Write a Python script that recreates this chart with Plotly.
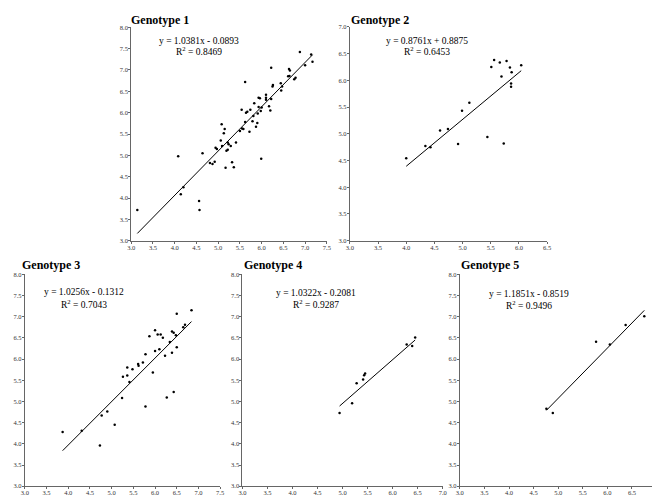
import plotly.graph_objects as go

# ---------------- data ----------------
g1_x = [3.14, 4.08, 4.14, 4.20, 4.56, 4.57, 4.64, 4.81, 4.87, 4.92, 4.94, 4.97, 5.06, 5.08, 5.13, 5.15,
        5.09, 5.17, 5.19, 5.22, 5.22, 5.24, 5.29, 5.32, 5.36, 5.41, 5.50, 5.54, 5.55, 5.58, 5.62, 5.62,
        5.64, 5.67, 5.72, 5.74, 5.79, 5.83, 5.81, 5.87, 5.90, 5.91, 5.93, 5.93, 5.96, 5.99, 5.98, 6.00,
        6.10, 6.10, 6.10, 6.17, 6.20, 6.22, 6.22, 6.25, 6.26, 6.44, 6.45, 6.47, 6.61, 6.63, 6.64, 6.65,
        6.75, 6.78, 6.88, 7.00, 7.14, 7.17]
g1_y = [3.72, 4.98, 4.09, 4.25, 3.93, 3.72, 5.05, 4.82, 4.80, 4.85, 5.18, 5.15, 5.35, 5.73, 5.52, 5.62,
        5.22, 4.71, 5.11, 5.13, 5.30, 5.26, 5.22, 4.84, 4.72, 5.30, 5.57, 6.07, 5.63, 5.62, 6.72, 5.78,
        6.00, 6.02, 5.55, 6.07, 5.80, 6.22, 5.92, 5.67, 5.76, 5.98, 6.13, 6.35, 6.34, 4.92, 6.04, 6.12,
        6.30, 6.42, 6.35, 6.15, 6.05, 6.32, 7.05, 6.61, 6.65, 6.69, 6.52, 6.61, 6.85, 7.02, 6.86, 6.99,
        6.78, 6.82, 7.42, 7.11, 7.36, 7.19]

g2_x = [4.00, 4.34, 4.43, 4.60, 4.74, 4.92, 4.99, 5.12, 5.44, 5.51, 5.56, 5.66, 5.69, 5.73, 5.78,
        5.84, 5.87, 5.86, 5.86, 6.04]
g2_y = [4.54, 4.77, 4.75, 5.06, 5.09, 4.81, 5.43, 5.58, 4.94, 6.25, 6.38, 6.33, 6.07, 4.82, 6.36,
        6.24, 6.15, 5.94, 5.88, 6.28]

g3_x = [3.87, 4.31, 4.73, 4.77, 4.90, 5.07, 5.24, 5.26, 5.36, 5.36, 5.41, 5.48, 5.61, 5.62, 5.72,
        5.78, 5.78, 5.87, 5.95, 6.00, 6.00, 6.06, 6.10, 6.13, 6.18, 6.23, 6.27, 6.34, 6.39, 6.39,
        6.43, 6.43, 6.50, 6.48, 6.50, 6.65, 6.69, 6.84]
g3_y = [4.28, 4.31, 3.96, 4.67, 4.76, 4.45, 5.08, 5.58, 5.80, 5.61, 5.46, 5.76, 5.88, 5.84, 5.92,
        6.11, 4.88, 6.54, 5.68, 6.68, 6.19, 6.58, 6.23, 6.58, 6.50, 6.08, 5.09, 6.40, 6.65, 6.15,
        5.22, 6.62, 7.07, 6.56, 6.28, 6.75, 6.81, 7.15]

g4_x = [4.94, 5.19, 5.28, 5.41, 5.43, 5.45, 6.28, 6.39, 6.45]
g4_y = [4.73, 4.96, 5.43, 5.52, 5.62, 5.66, 6.34, 6.31, 6.51]

g5_x = [4.76, 4.89, 5.77, 6.05, 6.37, 6.75]
g5_y = [4.83, 4.73, 6.41, 6.34, 6.80, 7.01]

titles = ["Genotype 1", "Genotype 2", "Genotype 3", "Genotype 4", "Genotype 5"]
slopes = [1.0381, 0.8761, 1.0256, 1.0322, 1.1851]
intercepts = [-0.0893, 0.8875, -0.1312, -0.2081, -0.8519]
eq_texts = ["y = 1.0381x - 0.0893", "y = 0.8761x + 0.8875", "y = 1.0256x - 0.1312",
            "y = 1.0322x - 0.2081", "y = 1.1851x - 0.8519"]
r2_texts = ["0.8469", "0.6453", "0.7043", "0.9287", "0.9496"]
x_ranges = [[3.0, 7.5], [3.0, 6.5], [3.0, 7.5], [3.0, 7.0], [3.0, 7.0]]
y_ranges = [[3.0, 8.0], [3.0, 7.0], [3.0, 8.0], [3.0, 8.0], [3.0, 8.0]]
x_ticks = [[3.0, 3.5, 4.0, 4.5, 5.0, 5.5, 6.0, 6.5, 7.0, 7.5],
           [3.0, 3.5, 4.0, 4.5, 5.0, 5.5, 6.0, 6.5],
           [3.0, 3.5, 4.0, 4.5, 5.0, 5.5, 6.0, 6.5, 7.0, 7.5],
           [3.0, 3.5, 4.0, 4.5, 5.0, 5.5, 6.0, 6.5, 7.0],
           [3.0, 3.5, 4.0, 4.5, 5.0, 5.5, 6.0, 6.5, 7.0]]
y_ticks = [[3.0, 3.5, 4.0, 4.5, 5.0, 5.5, 6.0, 6.5, 7.0, 7.5, 8.0],
           [3.0, 3.5, 4.0, 4.5, 5.0, 5.5, 6.0, 6.5, 7.0],
           [3.0, 3.5, 4.0, 4.5, 5.0, 5.5, 6.0, 6.5, 7.0, 7.5, 8.0],
           [3.0, 3.5, 4.0, 4.5, 5.0, 5.5, 6.0, 6.5, 7.0, 7.5, 8.0],
           [3.0, 3.5, 4.0, 4.5, 5.0, 5.5, 6.0, 6.5, 7.0, 7.5, 8.0]]

xs = [g1_x, g2_x, g3_x, g4_x, g5_x]
ys = [g1_y, g2_y, g3_y, g4_y, g5_y]

# ---------------- layout geometry (pixels) ----------------
W, H = 660, 496
# left, right, top, bottom in pixels
boxes = [(120.7, 318.7, 15.5, 232.0),
         (342.0, 541.7, 15.0, 232.0),
         (13.0, 210.7, 266.0, 481.0),
         (233.3, 436.0, 266.0, 481.0),
         (453.3, 652.5, 266.0, 481.0)]
eq_pos = [(189, 29.0, 40.0), (420.5, 29.0, 40.0), (73, 284.5, 296.0), (308, 285.0, 296.5), (523, 286.0, 297.0)]
title_pos = [(119, 0), (342.5, 0), (9.5, 249), (234, 249), (453, 249)]

fig = go.Figure()
FONT = "Liberation Serif"

for i in range(5):
    ax = "" if i == 0 else str(i + 1)
    xa, ya = "x" + ax, "y" + ax
    fig.add_trace(go.Scatter(x=xs[i], y=ys[i], mode="markers",
                             marker=dict(color="black", size=2.5),
                             xaxis=xa, yaxis=ya, showlegend=False, hoverinfo="skip"))
    x0, x1 = min(xs[i]), max(xs[i])
    lx = [x0, x1]
    ly = [slopes[i] * v + intercepts[i] for v in lx]
    fig.add_trace(go.Scatter(x=lx, y=ly, mode="lines",
                             line=dict(color="black", width=1),
                             xaxis=xa, yaxis=ya, showlegend=False, hoverinfo="skip"))
    l, r, t, b = boxes[i]
    axis_common = dict(showgrid=False, zeroline=False, showline=True, linecolor="#666",
                       linewidth=1, ticks="outside", ticklen=2, tickcolor="#666",
                       tickfont=dict(family=FONT, size=6.5, color="#333"), tickformat=".1f")
    fig.layout["xaxis" + ax] = dict(domain=[l / W, r / W], range=x_ranges[i],
                                    tickvals=x_ticks[i], anchor=ya, ticklabelstandoff=-2,
                                    **axis_common)
    fig.layout["yaxis" + ax] = dict(domain=[1 - b / H, 1 - t / H], range=y_ranges[i],
                                    tickvals=y_ticks[i], anchor=xa, ticklabelstandoff=-1,
                                    **axis_common)
    tx, ty = title_pos[i]
    fig.add_annotation(x=tx / W, y=1 - ty / H, xref="paper", yref="paper",
                       text="<b>" + titles[i] + "</b>", showarrow=False,
                       xanchor="left", yanchor="top", borderpad=0,
                       font=dict(family=FONT, size=12, color="black"))
    ex, ey, ry = eq_pos[i]
    fig.add_annotation(x=ex / W, y=1 - ey / H, xref="paper", yref="paper",
                       text=eq_texts[i], showarrow=False, xanchor="center", yanchor="middle",
                       borderpad=0,
                       font=dict(family=FONT, size=9.5, color="black"))
    fig.add_annotation(x=ex / W, y=1 - ry / H, xref="paper", yref="paper",
                       text="R<sup>2</sup> = " + r2_texts[i], showarrow=False,
                       xanchor="center", yanchor="middle", borderpad=0,
                       font=dict(family=FONT, size=9.5, color="black"))

fig.update_layout(width=W, height=H, margin=dict(l=0, r=0, t=0, b=0),
                  paper_bgcolor="white", plot_bgcolor="white")

fig.write_html("out.html")
